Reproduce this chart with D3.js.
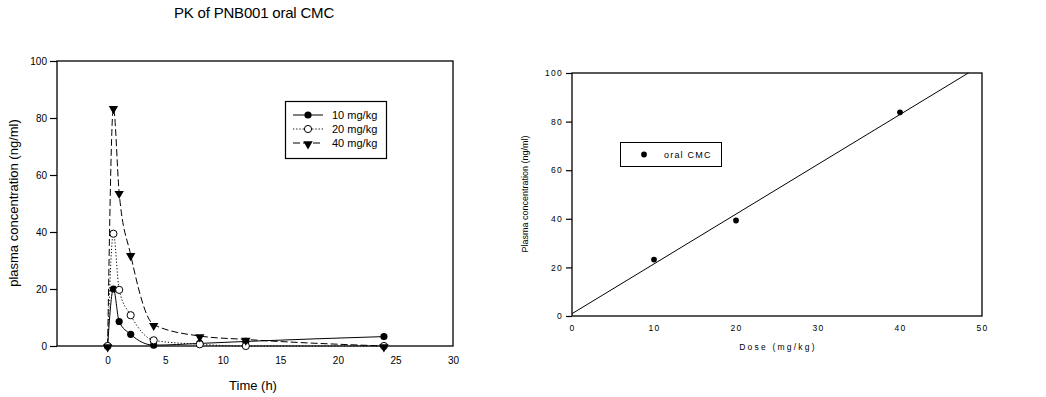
<!DOCTYPE html>
<html>
<head>
<meta charset="utf-8">
<script src="https://cdn.jsdelivr.net/npm/d3@7"></script>
<style>
  body { margin: 0; background: #fff; }
  svg { display: block; font-family: "Liberation Sans", Arial, sans-serif; }
</style>
</head>
<body>
<svg id="canvas"></svg>
<script>
// left panel: concentration time course
const timeH = [0, 0.5, 1, 2, 4, 8, 12, 24];
const conc10 = [0, 20, 8.6, 4.1, 0.3, 0.9, 1.6, 3.3];
const conc20 = [0, 39.4, 19.7, 10.8, 2.0, 0.6, 0, 0];
const conc40 = [0, 83.6, 53.8, 32.0, 7.5, 3.5, 2.3, 0];
const seriesNames = ["10 mg/kg", "20 mg/kg", "40 mg/kg"];
const timeTicks = [0, 5, 10, 15, 20, 25, 30];
const concTicks = [0, 20, 40, 60, 80, 100];

// right panel: Cmax vs dose
const doses = [10, 20, 40];
const cmax = [23.2, 39.3, 83.8];
const doseTicks = [0, 10, 20, 30, 40, 50];

const width = 1046, height = 397;
const font = 10;

const svg = d3.select("#canvas")
    .attr("width", width)
    .attr("height", height);

svg.append("rect").attr("width", width).attr("height", height).attr("fill", "#fff");

svg.append("text")
    .attr("x", 254)
    .attr("y", 18)
    .attr("text-anchor", "middle")
    .attr("font-size", 15)
    .attr("letter-spacing", -0.2)
    .text("PK of PNB001 oral CMC");

// ---------- left chart ----------
const L = { left: 57, right: 453, top: 61, bottom: 346 };

const x1 = d3.scaleLinear().domain([-4.4, 30]).range([L.left, L.right]);
const y1 = d3.scaleLinear().domain([0, 100]).range([L.bottom, L.top]);

const left = svg.append("g");

left.append("rect")
    .attr("x", L.left).attr("y", L.top)
    .attr("width", L.right - L.left).attr("height", L.bottom - L.top)
    .attr("fill", "none").attr("stroke", "#000").attr("stroke-width", 1.3);

left.append("g")
    .attr("transform", `translate(0,${L.bottom})`)
    .call(d3.axisBottom(x1).tickValues(timeTicks).tickSize(0).tickPadding(11))
    .call(g => g.select(".domain").remove())
    .selectAll("text").attr("font-size", font).attr("font-family", null);

left.append("g")
    .attr("transform", `translate(${L.left},0)`)
    .call(d3.axisLeft(y1).tickValues(concTicks).tickSize(7).tickPadding(3))
    .call(g => g.select(".domain").remove())
    .call(g => g.selectAll("line").attr("stroke-width", 1.2))
    .selectAll("text").attr("font-size", font).attr("font-family", null);

left.append("text")
    .attr("x", 253).attr("y", 390)
    .attr("text-anchor", "middle")
    .attr("font-size", 13)
    .text("Time (h)");

left.append("text")
    .attr("transform", "translate(18,203) rotate(-90)")
    .attr("text-anchor", "middle")
    .attr("font-size", 13)
    .text("plasma concentration (ng/ml)");

const dashes = [null, "1.2,2", "7,3"];
const allSeries = [conc10, conc20, conc40];

const line = d3.line()
    .x(d => x1(d[0]))
    .y(d => y1(d[1]))
    .curve(d3.curveMonotoneX);

const triangle = d3.symbol().type(d3.symbolTriangle).size(38);

function marker(g, i, cx, cy) {
    if (i === 0) {
        g.append("circle").attr("cx", cx).attr("cy", cy).attr("r", 3.6).attr("fill", "#000");
    } else if (i === 1) {
        g.append("circle").attr("cx", cx).attr("cy", cy).attr("r", 3.6)
            .attr("fill", "#fff").attr("stroke", "#000").attr("stroke-width", 1);
    } else {
        g.append("path").attr("d", triangle)
            .attr("transform", `translate(${cx},${cy + 1}) rotate(180)`)
            .attr("fill", "#000");
    }
}

allSeries.forEach((vals, i) => {
    const pts = timeH.map((t, k) => [t, vals[k]]);
    left.append("path")
        .datum(pts)
        .attr("d", line)
        .attr("fill", "none")
        .attr("stroke", "#000")
        .attr("stroke-width", 1)
        .attr("stroke-dasharray", dashes[i]);
});

allSeries.forEach((vals, i) => {
    const g = left.append("g");
    timeH.forEach((t, k) => marker(g, i, x1(t), y1(vals[k])));
});

// legend
const leg = left.append("g");
leg.append("rect")
    .attr("x", 285.5).attr("y", 101.5).attr("width", 101).attr("height", 57)
    .attr("fill", "#fff").attr("stroke", "#000").attr("stroke-width", 1.2);

seriesNames.forEach((name, i) => {
    const ly = 115 + i * 14;
    leg.append("line")
        .attr("x1", 293).attr("x2", 323).attr("y1", ly).attr("y2", ly)
        .attr("stroke", "#000").attr("stroke-width", 1)
        .attr("stroke-dasharray", dashes[i]);
    marker(leg, i, 308, ly);
    leg.append("text")
        .attr("x", 332).attr("y", ly + 4)
        .attr("font-size", 11)
        .text(name);
});

// ---------- right chart ----------
const R = { left: 572, right: 982, top: 73, bottom: 316 };

const x2 = d3.scaleLinear().domain([0, 50]).range([R.left, R.right]);
const y2 = d3.scaleLinear().domain([0, 100]).range([R.bottom, R.top]);

const right = svg.append("g");

right.append("rect")
    .attr("x", R.left).attr("y", R.top)
    .attr("width", R.right - R.left).attr("height", R.bottom - R.top)
    .attr("fill", "none").attr("stroke", "#000").attr("stroke-width", 1.3);

right.append("g")
    .attr("transform", `translate(0,${R.bottom})`)
    .call(d3.axisBottom(x2).tickValues(doseTicks).tickSize(0).tickPadding(9))
    .call(g => g.select(".domain").remove())
    .selectAll("text")
    .attr("font-size", 8.5).attr("font-family", null).attr("letter-spacing", 1.3)
    .attr("fill", "#000");

right.append("g")
    .attr("transform", `translate(${R.left},0)`)
    .call(d3.axisLeft(y2).tickValues(concTicks).tickSize(6).tickPadding(3))
    .call(g => g.select(".domain").remove())
    .call(g => g.selectAll("line").attr("stroke-width", 1.2))
    .selectAll("text")
    .attr("font-size", 8.5).attr("font-family", null).attr("letter-spacing", 1.3)
    .attr("fill", "#000");

right.append("text")
    .attr("x", 778).attr("y", 350)
    .attr("text-anchor", "middle")
    .attr("font-size", 8.5)
    .attr("letter-spacing", 2.2)
    .attr("fill", "#000")
    .text("Dose (mg/kg)");

right.append("text")
    .attr("transform", "translate(528,194) rotate(-90)")
    .attr("text-anchor", "middle")
    .attr("font-size", 9)
    .attr("fill", "#000")
    .text("Plasma concentration (ng/ml)");

// least-squares fit through the three doses
const mx = d3.mean(doses), my = d3.mean(cmax);
const slope = d3.sum(doses, (d, i) => (d - mx) * (cmax[i] - my)) /
    d3.sum(doses, d => (d - mx) * (d - mx));
const intercept = my - slope * mx;
const xEnd = Math.min(50, (100 - intercept) / slope);

right.append("line")
    .attr("x1", x2(0)).attr("y1", y2(intercept))
    .attr("x2", x2(xEnd)).attr("y2", y2(intercept + slope * xEnd))
    .attr("stroke", "#000").attr("stroke-width", 1);

const dot = d3.symbol().type(d3.symbolCircle).size(26);

right.selectAll(".pt")
    .data(doses)
    .enter()
    .append("path")
    .attr("class", "pt")
    .attr("d", dot)
    .attr("transform", (d, i) => `translate(${x2(d)},${y2(cmax[i])})`)
    .attr("fill", "#000");

const leg2 = right.append("g");
leg2.append("rect")
    .attr("x", 620.5).attr("y", 142.5).attr("width", 101).attr("height", 24)
    .attr("fill", "#fff").attr("stroke", "#000").attr("stroke-width", 1);
leg2.append("path")
    .attr("d", dot)
    .attr("transform", "translate(644,154.5)")
    .attr("fill", "#000");
leg2.append("text")
    .attr("x", 664).attr("y", 157.5)
    .attr("font-size", 9)
    .attr("letter-spacing", 1.2)
    .attr("fill", "#000")
    .text("oral CMC");
</script>
</body>
</html>
